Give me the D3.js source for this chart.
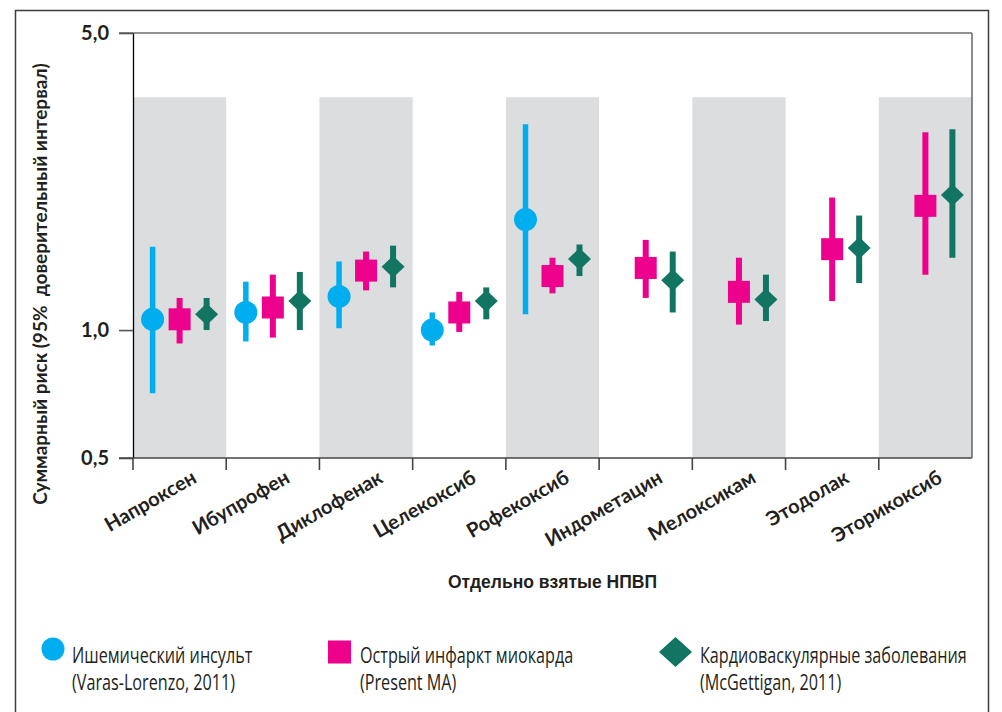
<!DOCTYPE html>
<html lang="ru">
<head>
<meta charset="utf-8">
<script src="https://cdn.jsdelivr.net/npm/d3@7"></script>
<style>
  html, body { margin: 0; padding: 0; background: #fff; }
  svg { display: block; }
</style>
</head>
<body>
<svg id="chart" width="1002" height="712"></svg>
<script>
// Drugs on the x axis
const categories = ["Напроксен", "Ибупрофен", "Диклофенак", "Целекоксиб", "Рофекоксиб",
                    "Индометацин", "Мелоксикам", "Этодолак", "Эторикоксиб"];

// Ischemic stroke (Varas-Lorenzo, 2011): pooled risk and 95% CI, null = not reported
const strokeRisk = [1.06, 1.10, 1.20, 1.00, 1.82, null, null, null, null];
const strokeLow  = [0.71, 0.94, 1.01, 0.92, 1.09, null, null, null, null];
const strokeHigh = [1.57, 1.30, 1.45, 1.10, 3.05, null, null, null, null];

// Acute myocardial infarction (Present MA)
const miRisk = [1.06, 1.13, 1.38, 1.10, 1.34, 1.40, 1.23, 1.55, 1.96];
const miLow  = [0.93, 0.96, 1.24, 0.99, 1.22, 1.19, 1.03, 1.17, 1.35];
const miHigh = [1.19, 1.35, 1.53, 1.23, 1.48, 1.63, 1.48, 2.05, 2.92];

// Cardiovascular events (McGettigan, 2011)
const cvRisk = [1.09, 1.17, 1.41, 1.17, 1.47, 1.31, 1.18, 1.56, 2.08];
const cvLow  = [1.00, 1.00, 1.26, 1.06, 1.34, 1.10, 1.05, 1.29, 1.48];
const cvHigh = [1.19, 1.37, 1.58, 1.26, 1.59, 1.53, 1.35, 1.86, 2.97];

// Y axis ticks
const yTicks = [0.5, 1.0, 5.0];
const yTickLabels = ["0,5", "1,0", "5,0"];

// Legend text
const seriesNames = ["Ишемический инсульт", "Острый инфаркт миокарда", "Кардиоваскулярные заболевания"];
const seriesSources = ["(Varas-Lorenzo, 2011)", "(Present MA)", "(McGettigan, 2011)"];

const yTitle = "Суммарный риск (95%\u00a0\u00a0доверительный интервал)";
const xTitle = "Отдельно взятые НПВП";

// ---- layout ----
const svg = d3.select("#chart");
const margin = { left: 133, top: 33, right: 30, bottom: 254 };
const W = 1002, H = 712;
const innerW = W - margin.left - margin.right;
const innerH = H - margin.top - margin.bottom;
const bandTop = 3.53;   // upper edge of the shaded columns on the risk scale

const colors = { stroke: "#00aeef", mi: "#ec008c", cv: "#127562" };
const ink = "#231f20";
const heavy = "Lato, 'Open Sans', sans-serif";

// outer frame
svg.append("rect")
  .attr("x", 15.5).attr("y", 10.5)
  .attr("width", 973).attr("height", 720)
  .attr("fill", "none").attr("stroke", "#3c3c3c").attr("stroke-width", 1.5);

const g = svg.append("g").attr("transform", `translate(${margin.left},${margin.top})`);

const x = d3.scaleBand().domain(categories).range([0, innerW]).padding(0);
const y = d3.scaleLog().domain([0.5, 5]).range([innerH, 0]);
const series = ["stroke", "mi", "cv"];
const xs = d3.scalePoint().domain(series).range([-27, 27]);

// shaded columns for alternating drugs
g.append("g").selectAll("rect")
  .data(categories.filter((d, i) => i % 2 === 0))
  .join("rect")
  .attr("x", d => x(d))
  .attr("width", x.bandwidth())
  .attr("y", y(bandTop))
  .attr("height", y(0.5) - y(bandTop))
  .attr("fill", "#dcdddf");

// top and right frame of the plot
g.append("line")
  .attr("x1", -14).attr("x2", innerW)
  .attr("y1", y(5)).attr("y2", y(5))
  .attr("stroke", "#6d6e70").attr("stroke-width", 1.6);
g.append("line")
  .attr("x1", innerW).attr("x2", innerW)
  .attr("y1", y(5)).attr("y2", y(0.5))
  .attr("stroke", "#6d6e70").attr("stroke-width", 1.6);

// y axis
const yAxis = d3.axisLeft(y)
  .tickValues(yTicks)
  .tickFormat((d, i) => yTickLabels[i])
  .tickSize(14)
  .tickSizeOuter(0)
  .tickPadding(10);
const yg = g.append("g").call(yAxis);
yg.select(".domain").attr("stroke", "#000").attr("stroke-width", 1.3);
yg.selectAll(".tick line").attr("stroke", "#555").attr("stroke-width", 1.6);
yg.selectAll(".tick text")
  .attr("fill", ink)
  .style("font-family", heavy)
  .style("font-weight", 700)
  .style("font-size", "20px");

// x axis baseline, boundary ticks and rotated labels
g.append("line")
  .attr("x1", -14).attr("x2", innerW)
  .attr("y1", innerH).attr("y2", innerH)
  .attr("stroke", "#444").attr("stroke-width", 1.6);
g.append("g").selectAll("line")
  .data(categories)
  .join("line")
  .attr("x1", d => x(d)).attr("x2", d => x(d))
  .attr("y1", innerH).attr("y2", innerH + 12)
  .attr("stroke", "#444").attr("stroke-width", 1.6);
g.append("g").selectAll("text")
  .data(categories)
  .join("text")
  .attr("transform", d => `translate(${x(d) + x.bandwidth() / 2 + 11},${innerH + 11}) rotate(-30)`)
  .attr("text-anchor", "end")
  .attr("dy", "0.72em")
  .attr("fill", ink)
  .style("font-family", heavy)
  .style("font-weight", 700)
  .style("font-size", "20px")
  .text(d => d);

// axis titles
svg.append("text")
  .attr("x", margin.left + innerW / 2)
  .attr("y", 588)
  .attr("text-anchor", "middle")
  .attr("fill", ink)
  .style("font-family", "'Liberation Sans', Arial, sans-serif")
  .style("font-weight", 700)
  .style("font-size", "17.5px")
  .text(xTitle);

svg.append("text")
  .attr("transform", "translate(47,284) rotate(-90)")
  .attr("text-anchor", "middle")
  .attr("fill", ink)
  .style("font-family", heavy)
  .style("font-weight", 700)
  .style("font-size", "19px")
  .text(yTitle);

// ---- error bars and markers ----
const rows = [];
categories.forEach((c, i) => {
  rows.push({ cat: c, s: "stroke", v: strokeRisk[i], lo: strokeLow[i], hi: strokeHigh[i] });
  rows.push({ cat: c, s: "mi", v: miRisk[i], lo: miLow[i], hi: miHigh[i] });
  rows.push({ cat: c, s: "cv", v: cvRisk[i], lo: cvLow[i], hi: cvHigh[i] });
});
const pts = rows.filter(d => d.v != null);
const cx = d => x(d.cat) + x.bandwidth() / 2 + xs(d.s);
const barWidth = { stroke: 5.5, mi: 6, cv: 6 };

g.append("g").selectAll("line")
  .data(pts)
  .join("line")
  .attr("x1", cx).attr("x2", cx)
  .attr("y1", d => y(d.lo)).attr("y2", d => y(d.hi))
  .attr("stroke", d => colors[d.s])
  .attr("stroke-width", d => barWidth[d.s]);

const diamond = (w, h) => `M0,${-h / 2}L${w / 2},0L0,${h / 2}L${-w / 2},0Z`;

const marks = g.append("g");
marks.selectAll("circle")
  .data(pts.filter(d => d.s === "stroke"))
  .join("circle")
  .attr("cx", cx).attr("cy", d => y(d.v))
  .attr("r", 11.5)
  .attr("fill", colors.stroke);
marks.selectAll("rect")
  .data(pts.filter(d => d.s === "mi"))
  .join("rect")
  .attr("x", d => cx(d) - 11).attr("y", d => y(d.v) - 11)
  .attr("width", 22).attr("height", 22)
  .attr("fill", colors.mi);
marks.selectAll("path")
  .data(pts.filter(d => d.s === "cv"))
  .join("path")
  .attr("transform", d => `translate(${cx(d)},${y(d.v)})`)
  .attr("d", diamond(23, 22))
  .attr("fill", colors.cv);

// ---- legend ----
const legendX = [53, 339.5, 675.5];
const textOffset = [19, 20.5, 24.5];
const legend = svg.append("g").selectAll("g")
  .data(series)
  .join("g")
  .attr("transform", (d, i) => `translate(${legendX[i]},652)`);
legend.filter(d => d === "stroke").append("circle")
  .attr("cy", -3).attr("r", 11.5).attr("fill", colors.stroke);
legend.filter(d => d === "mi").append("rect")
  .attr("x", -11.5).attr("y", -11.5).attr("width", 23).attr("height", 23).attr("fill", colors.mi);
legend.filter(d => d === "cv").append("path")
  .attr("d", diamond(33, 30)).attr("fill", colors.cv);
// condensed lettering: horizontally squeezed sans
const legendText = legend.append("text")
  .attr("transform", (d, i) => `translate(${textOffset[i]},0) scale(0.77,1)`)
  .attr("fill", ink)
  .style("font-family", "'Open Sans', 'Noto Sans', sans-serif")
  .style("font-size", "21px");
legendText.append("tspan").attr("x", 0).attr("y", 11).text((d, i) => seriesNames[i]);
legendText.append("tspan").attr("x", 0).attr("y", 38).text((d, i) => seriesSources[i]);
</script>
</body>
</html>
